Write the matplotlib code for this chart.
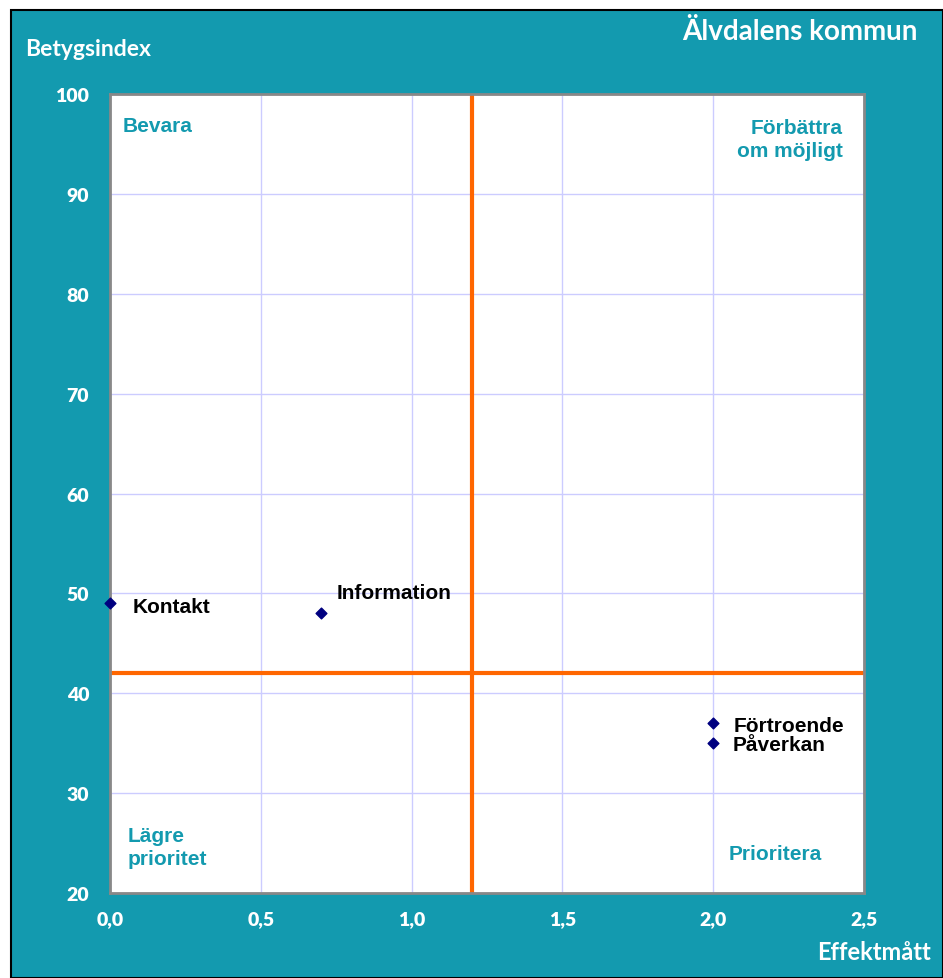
import matplotlib.pyplot as plt
from matplotlib.patches import Rectangle

# data
names = ["Kontakt", "Information", "Förtroende", "Påverkan"]
effekt = [0.0, 0.7, 2.0, 2.0]
betyg = [49, 48, 37, 35]
x_ticks = [0.0, 0.5, 1.0, 1.5, 2.0, 2.5]
y_ticks = [20, 30, 40, 50, 60, 70, 80, 90, 100]
x_split = 1.2
y_split = 42

# label offsets in points (dx, dy)
label_offsets = [(16, -2), (11, 15), (15, -1.5), (14, -1)]

teal = "#139AAF"
title_font = "Lato"
label_font = "Liberation Sans"

fig = plt.figure(figsize=(9.43, 9.79), dpi=100)
fig.patch.set_facecolor("white")
bg = Rectangle((11 / 943, 0), 1 - 11 / 943, 1 - 11 / 979, transform=fig.transFigure,
               facecolor=teal, edgecolor="black", linewidth=1.5, zorder=-10)
fig.patches.append(bg)

ax = fig.add_axes([110 / 943, 1 - 894 / 979, (864 - 110) / 943, (894 - 95) / 979])
ax.set_zorder(5)
ax.set_facecolor("white")
ax.set_xlim(0, 2.5)
ax.set_ylim(20, 100)
ax.set_xticks(x_ticks)
ax.set_yticks(y_ticks)
ax.set_xticklabels([f"{t:.1f}".replace(".", ",") for t in x_ticks])
ax.set_yticklabels([str(t) for t in y_ticks])
ax.grid(True, color="#CCCCFF", linewidth=1)
ax.set_axisbelow(True)
for s in ax.spines.values():
    s.set_color("#888888")
    s.set_linewidth(2)
ax.tick_params(length=0, pad=12, colors="white", labelsize=14)
for lab in ax.get_xticklabels() + ax.get_yticklabels():
    lab.set_fontfamily(title_font)
    lab.set_fontweight("heavy")
ax.tick_params(axis="y", pad=15)

ax.axvline(x_split, color="#FF6600", linewidth=3, zorder=2)
ax.axhline(y_split, color="#FF6600", linewidth=3, zorder=2)

ax.scatter(effekt, betyg, marker="D", s=30, color="#000080", zorder=4, clip_on=False)
for n, xv, yv, (dx, dy) in zip(names, effekt, betyg, label_offsets):
    ax.annotate(n, (xv, yv), xytext=(dx, dy), textcoords="offset points",
                ha="left", va="center", fontsize=15, fontweight="bold",
                fontfamily=label_font, color="black", zorder=5)

# quadrant labels
qkw = dict(fontsize=15, fontweight="bold", fontfamily=label_font, color=teal,
           transform=ax.transAxes, linespacing=1.3)
ax.text(13 / 754, 1 - 31 / 799, "Bevara", ha="left", va="center", **qkw)
ax.text(1 - 21 / 754, 1 - 45 / 799, "Förbättra\nom möjligt", ha="right", va="center", **qkw)
ax.text(18 / 754, 46 / 799, "Lägre\nprioritet", ha="left", va="center", **qkw)
ax.text(1 - 42 / 754, 39 / 799, "Prioritera", ha="right", va="center", **qkw)

fig.text(25 / 943, 1 - 50 / 979, "Betygsindex", ha="left", va="center", color="white",
         fontsize=16.5, fontweight="bold", fontfamily=title_font)
fig.text(918 / 943, 1 - 32 / 979, "Älvdalens kommun", ha="right", va="center", color="white",
         fontsize=20, fontweight="bold", fontfamily=title_font)
fig.text(931 / 943, 1 - 953 / 979, "Effektmått", ha="right", va="center", color="white",
         fontsize=17, fontweight="bold", fontfamily=title_font)

fig.savefig("out.png", dpi=100)
